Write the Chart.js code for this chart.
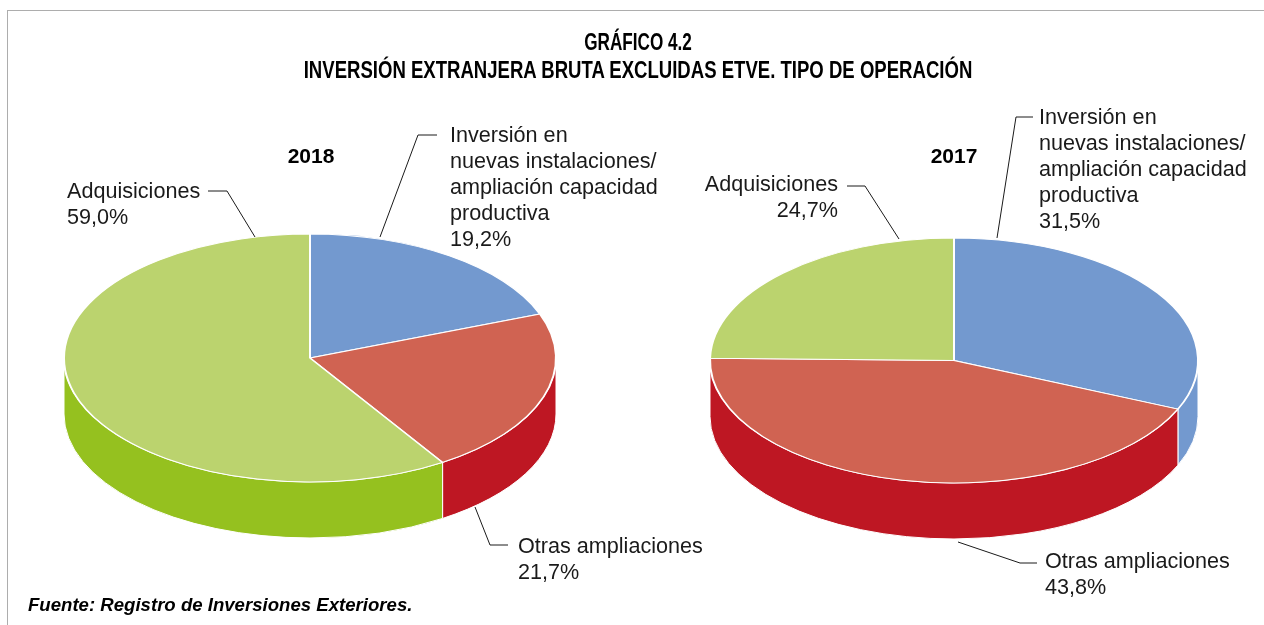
<!DOCTYPE html>
<html lang="es">
<head>
<meta charset="utf-8">
<title>Gráfico 4.2</title>
<script src="https://cdn.jsdelivr.net/npm/chart.js@4.4.1/dist/chart.umd.min.js"></script>
<style>
  html, body { margin: 0; padding: 0; background: #fff; }
  body { width: 1264px; height: 625px; position: relative; overflow: hidden;
         font-family: "Liberation Sans", Arial, Helvetica, sans-serif; color: #1a1a1a; }
  .frame { position: absolute; left: 7px; top: 10px; width: 1270px; height: 630px;
           border-left: 1px solid #adadad; border-top: 1px solid #adadad; }
  canvas { position: absolute; left: 0; top: 0; }
  .title { position: absolute; left: 6px; top: 28px; width: 1264px; text-align: center;
           font-weight: bold; font-size: 23px; line-height: 28px; color: #000; }
  .title .l1 { transform: scaleX(0.745); }
  .title .l2 { transform: scaleX(0.807); }
  .year { position: absolute; top: 143px; font-weight: bold; font-size: 21px; line-height: 26px;
          transform: translateX(-50%); color: #000; }
  .callout { position: absolute; font-size: 21.6px; line-height: 26px; white-space: nowrap; }
  .source { position: absolute; left: 28px; top: 594px; font-weight: bold; font-style: italic;
            font-size: 18.6px; line-height: 22px; color: #000; }
</style>
</head>
<body>
<div class="frame"></div>
<canvas id="pie2018" width="1264" height="625"></canvas>
<canvas id="pie2017" width="1264" height="625"></canvas>
<div class="title">
  <div class="l1">GRÁFICO 4.2</div>
  <div class="l2">INVERSIÓN EXTRANJERA BRUTA EXCLUIDAS ETVE. TIPO DE OPERACIÓN</div>
</div>
<div class="source">Fuente: Registro de Inversiones Exteriores.</div>

<script>
// Data
const years = ['2018', '2017'];
const categories = ['Inversión en nuevas instalaciones/ ampliación capacidad productiva', 'Otras ampliaciones', 'Adquisiciones'];
const categoryLines = [
    ['Inversión en', 'nuevas instalaciones/', 'ampliación capacidad', 'productiva'],
    ['Otras ampliaciones'],
    ['Adquisiciones']
];
const values2018 = [19.2, 21.7, 59.0];
const values2017 = [31.5, 43.8, 24.7];

// Colours: top face and side wall of each slice
const topColors = ['#7399cf', '#d06352', '#bbd36e'];
const sideColors = ['#7399cf', '#be1723', '#95c11f'];

// Layout of each pie (page pixels) and its callouts
const layout2018 = {
    yearX: 311,
    radius: 246, tilt: 0.504, depth: 56,
    padding: { left: 60, right: 704, top: 108, bottom: 17 },
    callouts: [
        { x: 450, top: 122, align: 'left', leader: [[380, 237], [418, 135], [437, 135]] },
        { x: 518, top: 533, align: 'left', leader: [[475, 507], [490, 545], [508, 545]] },
        { x: 67, top: 178, align: 'left', leader: [[255, 237], [227, 191], [208, 191]] }
    ]
};
const layout2017 = {
    yearX: 954,
    radius: 244, tilt: 0.502, depth: 56,
    padding: { left: 704, right: 60, top: 111, bottom: 15 },
    callouts: [
        { x: 1039, top: 104, align: 'left', leader: [[997, 238], [1016, 117], [1033, 117]] },
        { x: 1045, top: 548, align: 'left', leader: [[958, 542], [1020, 563], [1037, 563]] },
        { x: 838, top: 171, align: 'right', leader: [[899, 239], [865, 186], [847, 186]] }
    ]
};

function formatPct(v) {
    return v.toFixed(1).replace('.', ',') + '%';
}

// Draws the side walls, flattens the pie and adds leader lines
const pie3d = {
    id: 'pie3d',
    beforeDatasetsDraw(chart, args, opts) {
        const ctx = chart.ctx;
        const arcs = chart.getDatasetMeta(0).data;
        const cx = arcs[0].x, cy = arcs[0].y;
        arcs.forEach((arc, i) => {
            const a = Math.max(arc.startAngle, 0);
            const b = Math.min(arc.endAngle, Math.PI);
            if (b <= a) return;
            const r = arc.outerRadius;
            ctx.save();
            ctx.beginPath();
            ctx.ellipse(cx, cy, r, r * opts.tilt, 0, a, b);
            ctx.ellipse(cx, cy + opts.depth, r, r * opts.tilt, 0, b, a, true);
            ctx.closePath();
            ctx.fillStyle = opts.sideColors[i];
            ctx.fill();
            ctx.strokeStyle = '#fff';
            ctx.lineWidth = 1;
            ctx.stroke();
            ctx.restore();
        });
        ctx.save();
        ctx.translate(cx, cy);
        ctx.scale(1, opts.tilt);
        ctx.translate(-cx, -cy);
    },
    afterDatasetsDraw(chart) {
        chart.ctx.restore();
    },
    afterDraw(chart, args, opts) {
        const ctx = chart.ctx;
        ctx.save();
        ctx.strokeStyle = '#1a1a1a';
        ctx.lineWidth = 1;
        opts.callouts.forEach(c => {
            ctx.beginPath();
            c.leader.forEach((p, j) => j ? ctx.lineTo(p[0], p[1]) : ctx.moveTo(p[0], p[1]));
            ctx.stroke();
        });
        ctx.restore();
    }
};

function makePie(canvasId, year, values, look) {
    // year heading
    const yearEl = document.createElement('div');
    yearEl.className = 'year';
    yearEl.style.left = look.yearX + 'px';
    yearEl.textContent = year;
    document.body.appendChild(yearEl);

    // slice labels
    look.callouts.forEach((c, i) => {
        const el = document.createElement('div');
        el.className = 'callout';
        el.style.top = c.top + 'px';
        if (c.align === 'right') {
            el.style.right = (1264 - c.x) + 'px';
            el.style.textAlign = 'right';
        } else {
            el.style.left = c.x + 'px';
        }
        el.innerHTML = categoryLines[i].concat(formatPct(values[i])).join('<br>');
        document.body.appendChild(el);
    });

    return new Chart(document.getElementById(canvasId), {
        type: 'pie',
        data: {
            labels: categories,
            datasets: [{
                data: values,
                backgroundColor: topColors,
                borderColor: '#fff',
                borderWidth: 2
            }]
        },
        options: {
            responsive: false,
            animation: false,
            events: [],
            radius: look.radius,
            layout: { padding: look.padding },
            plugins: {
                legend: { display: false },
                tooltip: { enabled: false },
                pie3d: { tilt: look.tilt, depth: look.depth, sideColors: sideColors, callouts: look.callouts }
            }
        },
        plugins: [pie3d]
    });
}

makePie('pie2018', years[0], values2018, layout2018);
makePie('pie2017', years[1], values2017, layout2017);
</script>
</body>
</html>
